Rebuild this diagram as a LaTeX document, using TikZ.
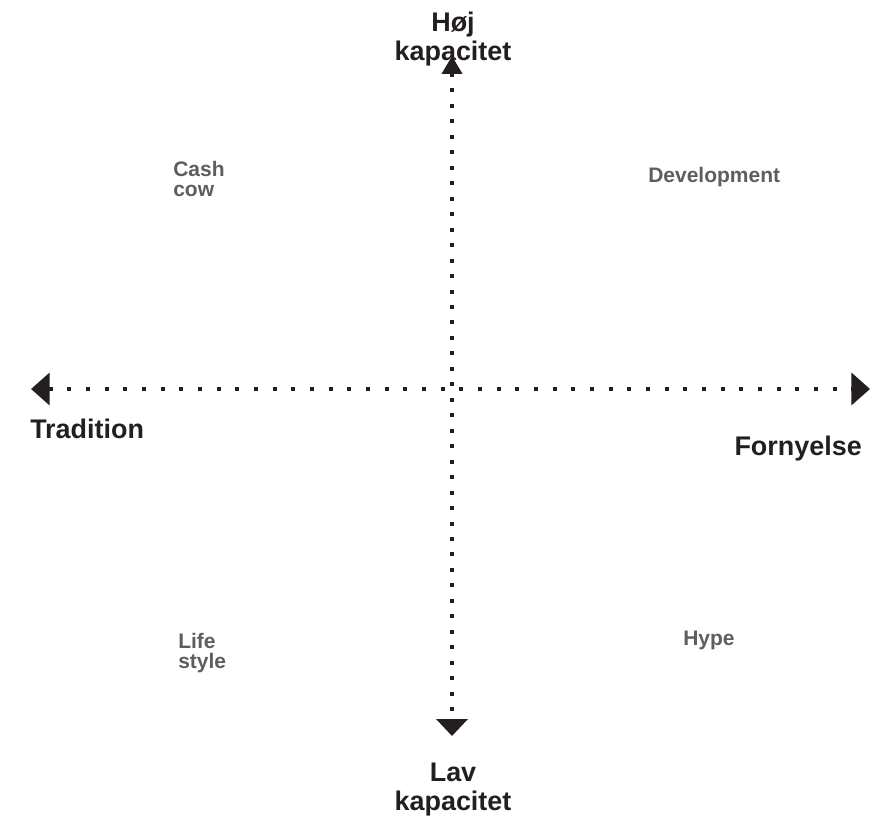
\documentclass[tikz,border=0pt]{standalone}
\usepackage{fontspec}
\setmainfont{Liberation Sans}
\usetikzlibrary{arrows.meta}
\definecolor{inkdark}{HTML}{231F20}
\definecolor{inkgray}{HTML}{5E5E5E}

\begin{document}
\begin{tikzpicture}[x=0.75pt,y=-0.75pt,
    axislabel/.style={font=\bfseries\fontsize{20.2}{21.75}\selectfont,text=inkdark,inner sep=0pt,align=center},
    quadlabel/.style={font=\bfseries\fontsize{15.75}{15}\selectfont,text=inkgray,inner sep=0pt,anchor=base west,align=left},
    axisline/.style={draw=inkdark,line width=3pt}]
    \useasboundingbox (0,0) rectangle (884,816);
    % Axis labels
    \node[axislabel,anchor=base] (hoj) at (453,61) {Høj\\kapacitet};
    \node[axislabel,anchor=base] (lav) at (453,810) {Lav\\kapacitet};
    \node[axislabel,anchor=base west] (tradition) at (30,438) {Tradition};
    \node[axislabel,anchor=base east] (fornyelse) at (862,455) {Fornyelse};
    % Quadrants
    \node[quadlabel] (cashcow) at (173,197) {Cash\\cow};
    \node[quadlabel] (development) at (648,183) {Development};
    \node[quadlabel] (lifestyle) at (178,668) {Life\\style};
    \node[quadlabel] (hype) at (683,645) {Hype};
    % The two axes
    \coordinate (top) at (452,56);
    \coordinate (bottom) at (452,736);
    \coordinate (left) at (31,389);
    \coordinate (right) at (870,389);
    \draw[axisline,dash pattern=on 3pt off 8.6pt,
        {Triangle[length=13.5pt,width=15pt]}-{Triangle[length=12.75pt,width=23.25pt]}] (top) -- (bottom); % capacity
    \draw[axisline,dash pattern=on 3pt off 11pt,
        {Triangle[length=14pt,width=24pt]}-{Triangle[length=14pt,width=24pt]}] (left) -- (right); % tradition vs. renewal
\end{tikzpicture}
\end{document}
